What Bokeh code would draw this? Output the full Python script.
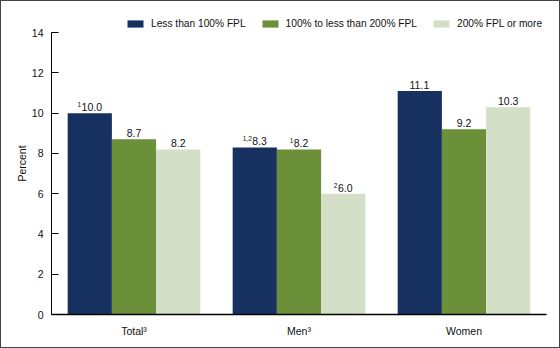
from bokeh.plotting import figure
from bokeh.models import ColumnDataSource, FixedTicker, Legend, LegendItem, Range1d, FactorRange
from bokeh.transform import dodge
from bokeh.core.properties import value
from bokeh.embed import file_html
from bokeh.resources import INLINE

categories = ["Total", "Men", "Women"]
category_labels = ["Total\u00b3", "Men\u00b3", "Women"]
series_names = ["Less than 100% FPL", "100% to less than 200% FPL", "200% FPL or more"]
less_than_100 = [10.0, 8.3, 11.1]
from_100_to_200 = [8.7, 8.2, 9.2]
at_least_200 = [8.2, 6.0, 10.3]
notes_less_than_100 = ["1", "1,2", ""]
notes_100_to_200 = ["", "1", ""]
notes_at_least_200 = ["", "2", ""]
y_ticks = [0, 2, 4, 6, 8, 10, 12, 14]

colors = ["#16305f", "#6b9039", "#d3dfc6"]
FONT = "Liberation Sans"
MAIN_SIZE = 10.5
SUP_SIZE = 6.5


def text_width(s, size):
    w = 0.0
    for ch in s:
        w += (0.278 if ch in ".," else 0.556) * size
    return w


p = figure(width=558, height=346,
           x_range=FactorRange(factors=category_labels, range_padding=0),
           y_range=Range1d(0, 15),
           output_backend="svg", toolbar_location=None,
           min_border_left=50, min_border_right=15,
           min_border_top=11, min_border_bottom=35)
p.styles = {"border": "1px solid #444", "box-sizing": "content-box"}
p.background_fill_color = "white"
p.border_fill_color = "white"
p.outline_line_color = None
p.xgrid.visible = False
p.ygrid.visible = False

bar_w = 0.268
offsets = [-bar_w, 0.0, bar_w]
series = [less_than_100, from_100_to_200, at_least_200]
notes = [notes_less_than_100, notes_100_to_200, notes_at_least_200]

items = []
for k in range(3):
    vals = series[k]
    mains = [f"{v:.1f}" for v in vals]
    sups = notes[k]
    main_off = []
    sup_off = []
    for m, s in zip(mains, sups):
        mw = text_width(m, MAIN_SIZE)
        sw = text_width(s, SUP_SIZE) + (0.5 if s else 0)
        start = -(mw + sw) / 2
        sup_off.append(start)
        main_off.append(start + sw)
    src = ColumnDataSource(dict(cat=category_labels, val=vals, main=mains, sup=sups,
                                moff=main_off, soff=sup_off))
    r = p.vbar(x=dodge("cat", offsets[k], range=p.x_range), top="val", width=bar_w,
               source=src, fill_color=colors[k], line_color=None)
    items.append(LegendItem(label=series_names[k], renderers=[r]))
    p.text(x=dodge("cat", offsets[k], range=p.x_range), y="val", text="main", source=src,
           x_offset="moff", y_offset=-2, text_align="left", text_baseline="bottom",
           text_font=value(FONT), text_font_size=f"{MAIN_SIZE}px", text_color="#111")
    p.text(x=dodge("cat", offsets[k], range=p.x_range), y="val", text="sup", source=src,
           x_offset="soff", y_offset=-6, text_align="left", text_baseline="bottom",
           text_font=value(FONT), text_font_size=f"{SUP_SIZE}px", text_color="#111")

legend = Legend(items=items, orientation="horizontal", location=(74, 285),
                glyph_width=20, glyph_height=9, label_standoff=6, spacing=14,
                padding=0, margin=0, border_line_color=None, background_fill_alpha=0,
                label_text_font=FONT, label_text_font_size="10.2px", label_text_color="#111")
p.add_layout(legend)

ya = p.yaxis[0]
ya.bounds = (0, 14)
ya.ticker = FixedTicker(ticks=y_ticks)
ya.minor_tick_line_color = None
ya.major_tick_in = 7
ya.major_tick_out = 0
ya.major_tick_line_color = "black"
ya.axis_line_color = "black"
ya.major_label_standoff = 8
ya.major_label_text_font = FONT
ya.major_label_text_font_size = "10.5px"
ya.major_label_text_color = "#111"
ya.axis_label = "Percent"
ya.axis_label_text_font = FONT
ya.axis_label_text_font_size = "10.5px"
ya.axis_label_text_font_style = "normal"
ya.axis_label_text_color = "#111"
ya.axis_label_standoff = 1

xa = p.xaxis[0]
xa.major_tick_in = 0
xa.major_tick_out = 0
xa.axis_line_color = "black"
xa.axis_line_width = 1.5
xa.major_label_standoff = 10
xa.major_label_text_font = FONT
xa.major_label_text_font_size = "10.5px"
xa.major_label_text_color = "#111"

open("out.html", "w").write(file_html(p, INLINE))
